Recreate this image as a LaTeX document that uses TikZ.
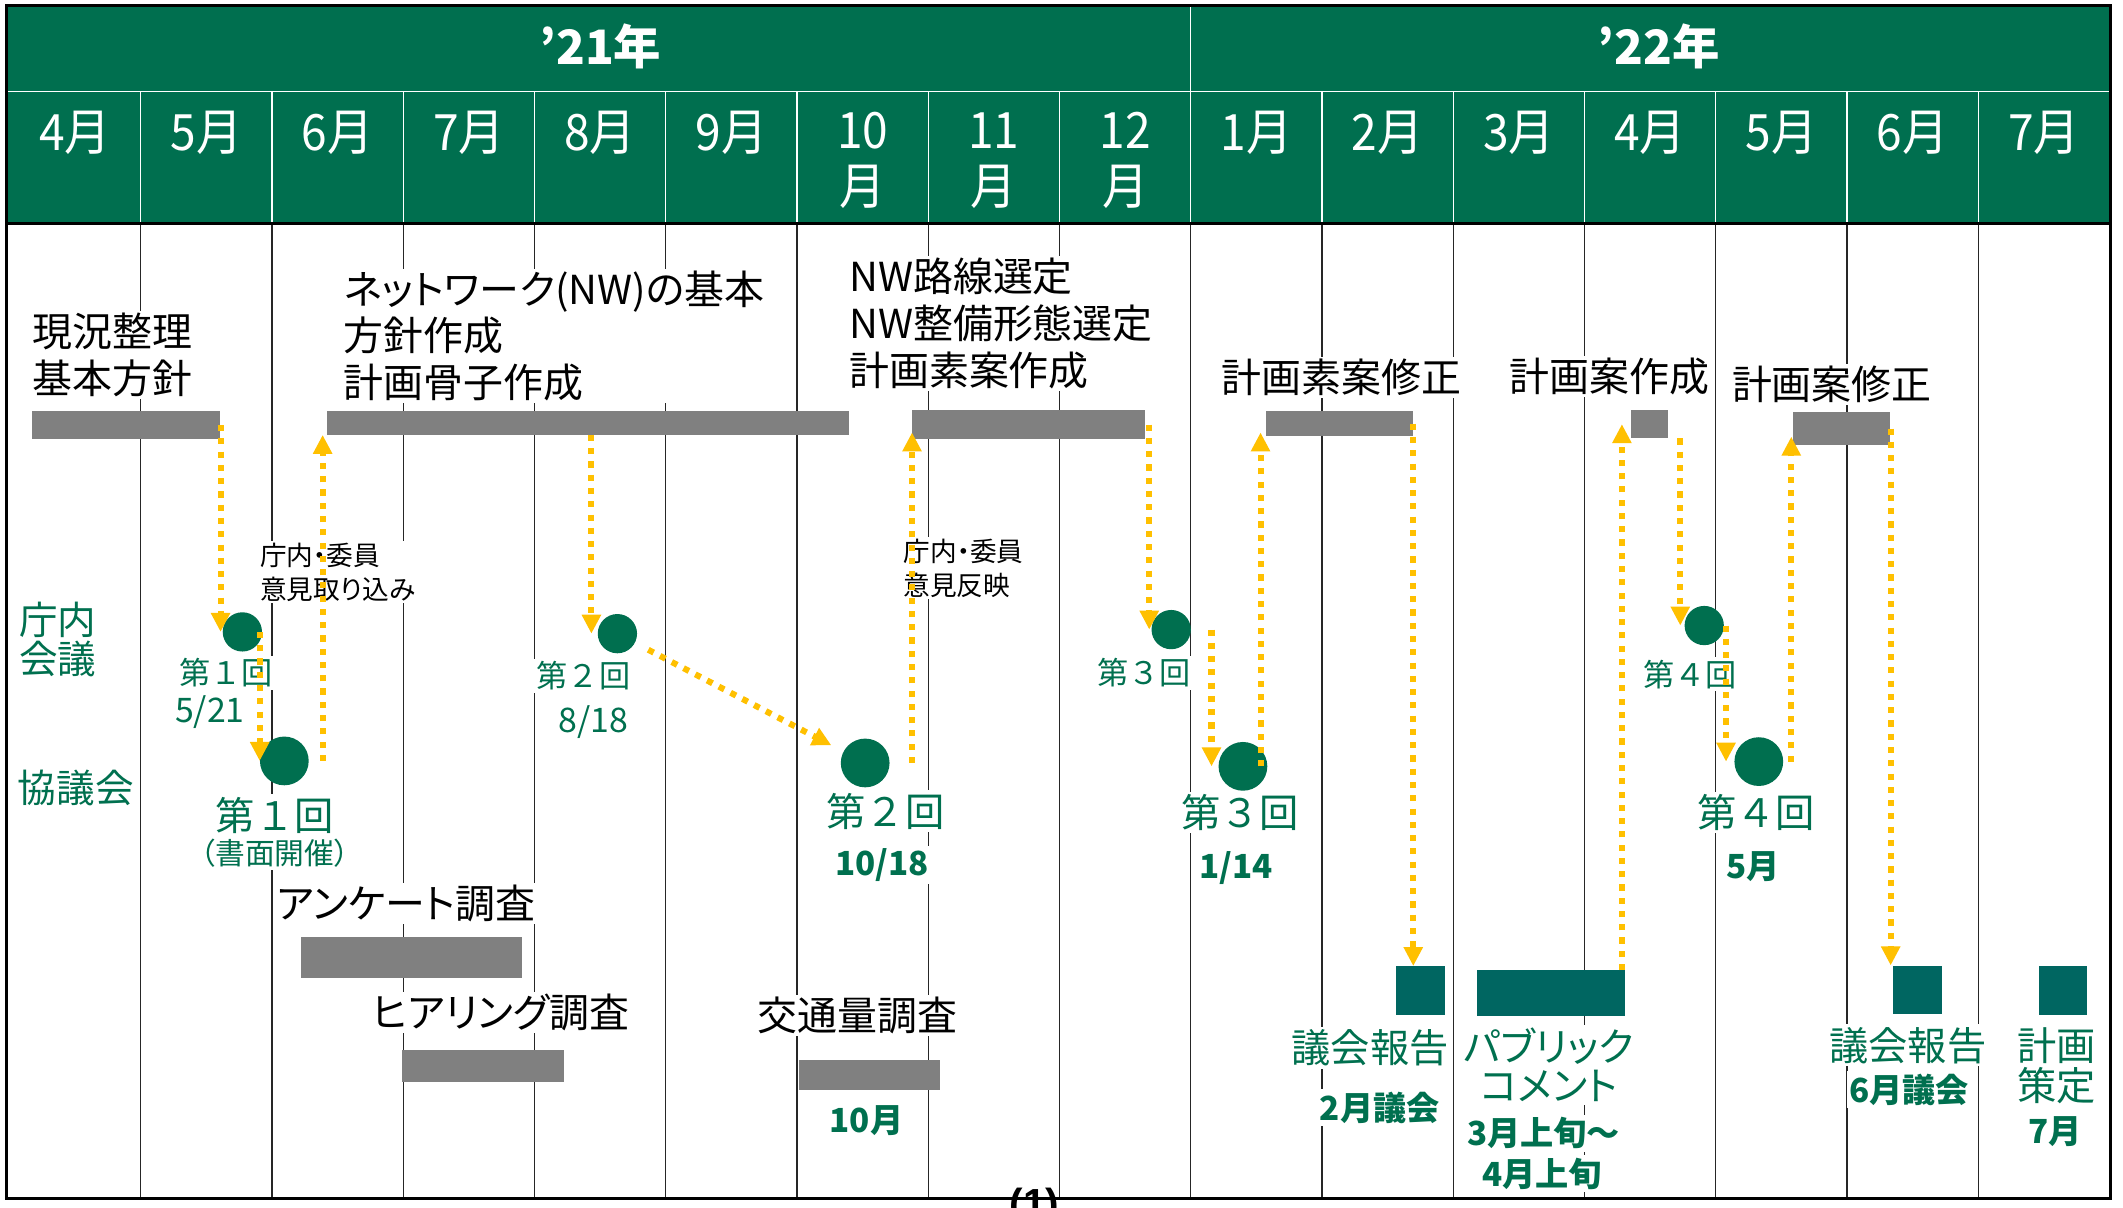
\documentclass[tikz,border=0pt]{standalone}
\usepackage{fontspec}
\setmainfont{Noto Sans CJK JP}
\newfontfamily\jpp{Noto Sans CJK JP}[RawFeature=+palt]
\newfontfamily\latf{Liberation Sans}
\usetikzlibrary{arrows.meta}
\definecolor{hdr}{HTML}{006F4F}
\definecolor{grn}{HTML}{00704F}
\definecolor{tealbox}{HTML}{006661}
\definecolor{gold}{HTML}{FFC000}
\definecolor{barg}{HTML}{808080}
\newcommand\myfs[2]{\fontsize{#1}{#2}\selectfont}
\newcommand\mscale[1]{\scalebox{0.92}[1]{#1}}
\tikzset{
  mon/.style={text=white, font=\myfs{37}{41}, align=center, inner sep=0pt},
  yr/.style={text=white, font=\jpp\bfseries\myfs{35}{35}, inner sep=0pt},
  lbl/.style={font=\myfs{29.5}{34.5}, fill=white, inner sep=1.5pt, align=left, anchor=west, text=black},
  lblk/.style={lbl, font=\jpp\myfs{29.5}{34.5}},
  slbl/.style={lbl, font=\jpp\myfs{19.7}{25}},
  glbl/.style={font=\myfs{28.5}{29}, text=grn, fill=white, inner sep=1.5pt, align=left, anchor=west},
  gsm/.style={font=\myfs{23}{23}, text=grn, fill=white, inner sep=2pt},
  gdt/.style={font=\myfs{25}{25}, text=grn, fill=white, inner sep=2pt},
  gbig/.style={font=\myfs{29}{29.5}, text=grn, fill=white, inner sep=2pt, align=center},
  gpar/.style={font=\jpp\myfs{22}{22}, text=grn, fill=white, inner sep=2pt},
  gbold/.style={font=\bfseries\myfs{24.5}{25}, text=grn, fill=white, inner sep=2pt},
  bar/.style={fill=barg, draw=none, inner sep=0pt, anchor=north west},
  tbox/.style={fill=tealbox, draw=none, inner sep=0pt, anchor=north west},
  scirc/.style={circle, fill=hdr, draw=none, inner sep=0pt, minimum size=29pt},
  bcirc/.style={circle, fill=hdr, draw=none, inner sep=0pt, minimum size=36pt},
  arr/.style={draw=gold, line width=4.5pt, dash pattern=on 4.5pt off 5.3pt,
              -{Triangle[width=13.5pt,length=14pt]}},
  vline/.style={draw=black!85, line width=1pt},
}
\begin{document}
\begin{tikzpicture}[x=1pt,y=-1pt]
\useasboundingbox (0,0) rectangle (1568,891.5);
\fill[white] (0,0) rectangle (1568,891.5);

% body vertical lines
\foreach \i in {1,...,15}
  \draw[vline] ({7+96.94*\i},165) -- ({7+96.94*\i},885);

% header
\fill[hdr] (5,4) rectangle (1558.5,165);
\draw[white, line width=1.3pt] (5,67.5) -- (1558.5,67.5);
\draw[white, line width=1pt] (879.5,4) -- (879.5,67.5);
\foreach \i in {1,...,15}
  \draw[white, line width=1pt] ({7+96.94*\i},67.5) -- ({7+96.94*\i},165);
\node[yr] (y21) at (443.5,34) {’21年};
\node[yr] (y22) at (1225,34) {’22年};
\foreach \lab [count=\i from 0] in {4,5,6,7,8,9}
  \node[mon] (h\i) at ({7+96.94*(\i+0.5)},98.4) {\mscale{\lab 月}};
\node[mon] (h6) at ({7+96.94*6.5},118.5) {\mscale{10}\\\mscale{月}};
\node[mon] (h7) at ({7+96.94*7.5},118.5) {\mscale{11}\\\mscale{月}};
\node[mon] (h8) at ({7+96.94*8.5},118.5) {\mscale{12}\\\mscale{月}};
\foreach \lab [count=\i from 9] in {1,2,3,4,5,6,7}
  \node[mon] (h\i) at ({7+96.94*(\i+0.5)},98.4) {\mscale{\lab 月}};
\draw[black, line width=2pt] (5,165) -- (1558.5,165);

% black labels
\node[lbl] (t1) at (22.2,262) {現況整理\\基本方針};
\node[lblk] (t2) at (252.3,248) {ネットワーク(NW)の基本\\方針作成\\計画骨子作成};
\node[lbl] (t3) at (625.5,239) {NW路線選定\\NW整備形態選定\\計画素案作成};
\node[lbl] (t4) at (900.5,279) {計画素案修正};
\node[lbl] (t5) at (1113,278) {計画案作成};
\node[lbl] (t6) at (1277.5,284) {計画案修正};
\node[lblk] (t7) at (203,667) {アンケート調査};
\node[lblk] (t8) at (273,748) {ヒアリング調査};
\node[lbl] (t9) at (558,750) {交通量調査};
\node[slbl] (s1) at (190.5,422.5) {庁内・委員\\意見取り込み};
\node[slbl] (s2) at (665.5,419.5) {庁内・委員\\意見反映};

% green labels
\node[glbl] (g1) at (12.5,472.5) {庁内\\会議};
\node[glbl] (g2) at (11.5,582) {協議会};
\node[gsm] (k1) at (167,497) {第１回};
\node[gdt] (d1) at (155,526) {5/21};
\node[gsm] (k2) at (431,499) {第２回};
\node[gdt] (d2) at (438,533) {8/18};
\node[gsm] (k3) at (845,497) {第３回};
\node[gsm] (k4) at (1248,498) {第４回};
\node[gbig] (K1) at (203,602) {第１回};
\node[gpar] (P1) at (203,630) {（書面開催）};
\node[gbig] (K2) at (654,599) {第２回};
\node[gbold] (D2) at (651.5,639) {10/18};
\node[gbig] (K3) at (916,600) {第３回};
\node[gbold] (D3) at (913,641) {1/14};
\node[gbig] (K4) at (1297,600) {第４回};
\node[gbold] (D4) at (1295,640) {5月};
\node[gbold] (D5) at (640,828) {10月};
\node[gbig] (R1) at (1012,774) {議会報告};
\node[gbold] (R1d) at (1019,818) {2月議会};
\node[gbig, font=\jpp\myfs{29}{29}] (R2) at (1144,786.5) {パブリック\\コメント};
\node[gbold] (R2d) at (1140,837) {3月上旬～};
\node[gbold] (R2e) at (1139,867) {4月上旬};
\node[gbig] (R3) at (1409,772) {議会報告};
\node[gbold] (R3d) at (1410,805) {6月議会};
\node[gbig, font=\myfs{29}{30}] (R4) at (1519,787) {計画\\策定};
\node[gbold] (R4d) at (1518,836) {7月};

% bars
\node[bar, minimum width=138.8pt, minimum height=20.5pt] (B1) at (23.7,303.5) {};
\node[bar, minimum width=385.8pt, minimum height=17.3pt] (B2) at (241,303.5) {};
\node[bar, minimum width=172pt, minimum height=21.2pt] (B3) at (673.6,302.8) {};
\node[bar, minimum width=108.4pt, minimum height=18.5pt] (B4) at (935,303.5) {};
\node[bar, minimum width=27.4pt, minimum height=20.6pt] (B5) at (1204.6,302.8) {};
\node[bar, minimum width=72pt, minimum height=24.6pt] (B6) at (1324,304) {};
\node[bar, minimum width=162.8pt, minimum height=30pt] (B7) at (222.2,692) {};
\node[bar, minimum width=119.6pt, minimum height=23.5pt] (B8) at (297,775.5) {};
\node[bar, minimum width=104.8pt, minimum height=22pt] (B9) at (589.6,783) {};
\node[tbox, minimum width=36pt, minimum height=36pt] (T1) at (1031,713.5) {};
\node[tbox, minimum width=109pt, minimum height=33.5pt] (T2) at (1091,716.5) {};
\node[tbox, minimum width=36pt, minimum height=36pt] (T3) at (1398,713) {};
\node[tbox, minimum width=35.5pt, minimum height=36pt] (T4) at (1506,713.5) {};

% circles
\node[scirc] (c1) at (179,466.7) {};
\node[scirc] (c2) at (456,468) {};
\node[scirc] (c3) at (865,465) {};
\node[scirc] (c4) at (1258.7,462) {};
\node[bcirc] (C1) at (210,562) {};
\node[bcirc] (C2) at (639,563.5) {};
\node[bcirc] (C3) at (918,566) {};
\node[bcirc] (C4) at (1299,562.5) {};

% helper coordinates for arrow columns
\coordinate (a3) at ([xshift=-2.7pt]B2.south west);
\coordinate (a4) at ([xshift=-4.5pt]c2.west);
\coordinate (a6) at ([yshift=5pt]B3.south west);
\coordinate (a7) at ([xshift=-1.5pt]c3.west);
\coordinate (a8) at ([xshift=-5pt]C3.west);
\coordinate (a9) at ([xshift=-4pt,yshift=3pt]B4.south west);
\coordinate (a11) at ([xshift=-2.5pt]T2.north east);
\coordinate (a12) at ([xshift=-3pt]c4.west);
\coordinate (a13) at ([xshift=-6pt]C4.west);
\coordinate (a14) at ([xshift=-1pt,yshift=6.5pt]B6.south west);

% arrows
\draw[arr] (B1.east) -- (B1.east |- c1.center);
\draw[arr] (C1.west |- c1.center) -- (C1.west);
\draw[arr] (a3 |- C1.center) -- (a3);
\draw[arr] (a4 |- B2.south) -- (a4);
\draw[arr, shorten <=11pt, shorten >=10pt] (c2) -- (C2);
\draw[arr] (a6 |- C2.center) -- (a6);
\draw[arr] (a7 |- B3.east) -- (a7);
\draw[arr] (a8 |- c3.center) -- (a8);
\draw[arr] (a9 |- C3.center) -- (a9);
\draw[arr] (B4.east) -- (B4.east |- T1.north);
\draw[arr] (a11) -- (a11 |- B5.center);
\draw[arr] (a12 |- B5.south) -- (a12);
\draw[arr] (a13 |- c4.center) -- (a13);
\draw[arr] (a14 |- C4.center) -- (a14);
\draw[arr] (B6.east) -- (B6.east |- T3.north);

% frame
\draw[black, line width=2.2pt] (5,4) rectangle (1558.5,885);
\node[font=\latf\bfseries\myfs{30}{30}, anchor=north, inner sep=0pt] (pg) at (764,877) {(1)};
\end{tikzpicture}
\end{document}
